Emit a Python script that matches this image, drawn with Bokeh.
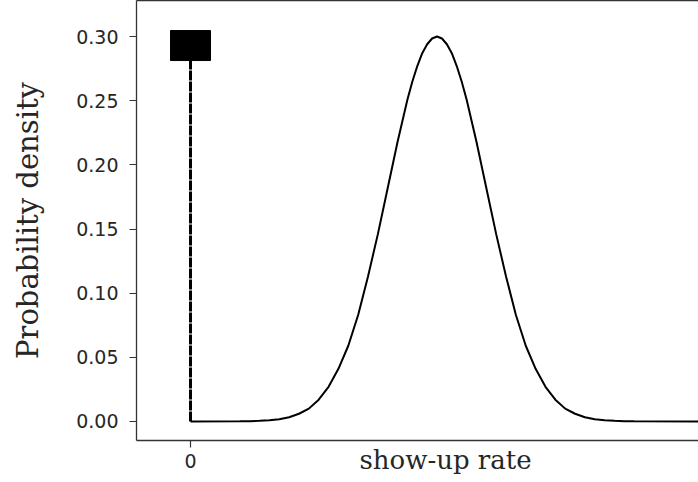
from bokeh.plotting import figure
from bokeh.models import Range1d, FixedTicker, PrintfTickFormatter, LinearAxis
from bokeh.embed import file_html
from bokeh.resources import INLINE

# ---- data ----
rate = [0.0, 0.5, 0.6, 0.7, 0.8, 0.9, 1.0, 1.1, 1.2, 1.3, 1.4, 1.5, 1.6, 1.7, 1.8, 1.9,
        2.0, 2.1, 2.2, 2.25, 2.3, 2.35, 2.4, 2.45, 2.5, 2.55, 2.6, 2.65, 2.7, 2.75, 2.8,
        2.9, 3.0, 3.1, 3.2, 3.3, 3.4, 3.5, 3.6, 3.7, 3.8, 3.9, 4.0, 4.1, 4.2, 4.3,
        4.4, 4.5, 5.3]
density = [0.0, 0.0001, 0.0002, 0.0005, 0.0009, 0.0018, 0.0033, 0.006, 0.010, 0.017, 0.027,
           0.041, 0.059, 0.083, 0.113, 0.146, 0.182, 0.218, 0.251, 0.265, 0.277, 0.287,
           0.294, 0.2985, 0.300, 0.2985, 0.294, 0.287, 0.277, 0.265, 0.251, 0.218, 0.182,
           0.146, 0.113, 0.083, 0.059, 0.041, 0.027, 0.017, 0.010, 0.006, 0.0033, 0.0018,
           0.0009, 0.0005, 0.0002, 0.0001, 0.0]
stem_x = [0.0, 0.0]
stem_y = [0.0, 0.293]
point_x = [0.0]
point_y = [0.293]
y_ticks = [0.0, 0.05, 0.10, 0.15, 0.20, 0.25, 0.30]
x_ticks = [0]
x_title = "show-up rate"
x_title_pos = 2.586

p = figure(width=698, height=482, output_backend="svg", toolbar_location=None,
           x_range=Range1d(-0.548, 5.152), y_range=Range1d(-0.01484, 0.3281),
           min_border_left=136, min_border_right=0, min_border_top=0, min_border_bottom=42)
p.outline_line_color = None
p.xgrid.visible = False
p.ygrid.visible = False
p.background_fill_color = "white"
p.border_fill_color = "white"

p.line(rate, density, line_color="black", line_width=2)
p.line(stem_x, stem_y, line_color="black", line_width=3, line_dash="10 1")
p.rect(x=point_x, y=point_y, width=40, height=30, width_units="screen",
       height_units="screen", fill_color="black", line_color="black")

for ax in (p.xaxis[0], p.yaxis[0]):
    ax.axis_line_color = "#333333"
    ax.axis_line_width = 1.3
    ax.major_tick_line_color = "#333333"
    ax.major_tick_line_width = 1.2
    ax.major_tick_out = 7
    ax.major_tick_in = 0
    ax.minor_tick_line_color = None
    ax.major_label_text_font = "DejaVu Sans"
    ax.major_label_text_font_size = "19px"
    ax.major_label_text_color = "#262626"

p.yaxis.ticker = FixedTicker(ticks=y_ticks)
p.yaxis.formatter = PrintfTickFormatter(format="%.2f")
p.yaxis.major_label_standoff = 11
p.yaxis.axis_label = "Probability density"
p.yaxis.axis_label_text_font = "DejaVu Serif"
p.yaxis.axis_label_text_font_size = "29px"
p.yaxis.axis_label_text_font_style = "normal"
p.yaxis.axis_label_text_color = "#262626"
p.yaxis.axis_label_standoff = 28

p.xaxis.ticker = FixedTicker(ticks=x_ticks)
p.xaxis.major_label_standoff = 6

# x-axis title, offset to the right like the reference (its frame extends past the crop)
title_axis = LinearAxis(ticker=FixedTicker(ticks=[x_title_pos]),
                        major_label_overrides={x_title_pos: x_title},
                        axis_line_color=None, major_tick_line_color=None,
                        minor_tick_line_color=None, major_tick_out=0, major_tick_in=0,
                        minor_tick_out=0, minor_tick_in=0,
                        major_label_standoff=-26,
                        major_label_text_font="DejaVu Serif",
                        major_label_text_font_size="26px",
                        major_label_text_color="#262626")
p.add_layout(title_axis, "below")

top = LinearAxis(ticker=FixedTicker(ticks=[]), major_label_text_font_size="0px",
                 major_tick_out=0, major_tick_in=0, minor_tick_out=0, minor_tick_in=0,
                 axis_line_color="#333333", axis_line_width=1.3)
p.add_layout(top, "above")

open("out.html", "w").write(file_html(p, INLINE))
